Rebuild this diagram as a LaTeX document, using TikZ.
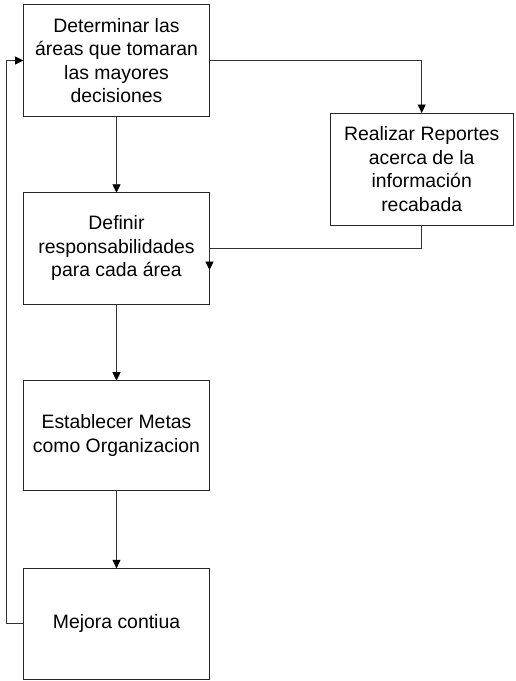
\documentclass[tikz,border=0pt]{standalone}
\usepackage{fontspec}
\setmainfont{Liberation Sans}
\usetikzlibrary{arrows.meta}
\begin{document}
\begin{tikzpicture}[x=1pt,y=-1pt,
  procbox/.style={draw=black!85, line width=0.9pt, fill=white, inner sep=0pt, outer sep=0pt,
    minimum width=186pt, align=center,
    font=\fontsize{19.4}{23.5}\selectfont},
  arr/.style={draw=black!80, line width=0.9pt,
    -{Triangle[width=8pt,length=8.5pt,color=black]}}]
  \useasboundingbox (0,0) rectangle (516,681);
  % process steps
  \node[procbox, minimum height=112pt] (b1) at (116.5,60.5)
    {Determinar las\\áreas que tomaran\\las mayores\\decisiones};
  \node[procbox, minimum width=183.3pt, minimum height=112pt] (b2) at (421.7,169)
    {Realizar Reportes\\acerca de la\\información\\recabada};
  \node[procbox, minimum height=111.3pt] (b3) at (116.5,248.4)
    {Definir\\responsabilidades\\para cada área};
  \node[procbox, minimum height=110pt] (b4) at (116.5,435.7)
    {Establecer Metas\\como Organizacion};
  \node[procbox, minimum height=110.7pt] (b5) at (116.5,623.7)
    {Mejora contiua};
  % connectors
  \coordinate (rin) at (209.5,270);
  \coordinate (loop) at (6,623.7);
  \draw[arr] (b1.south) -- (b3.north);
  \draw[arr] (b1.east) -| (b2.north);
  \draw[arr] (b2.south) |- (b3.east) -- (rin);
  \draw[arr] (b3.south) -- (b4.north);
  \draw[arr] (b4.south) -- (b5.north);
  \draw[arr] (b5.west) -- (loop) |- (b1.west);
\end{tikzpicture}
\end{document}
